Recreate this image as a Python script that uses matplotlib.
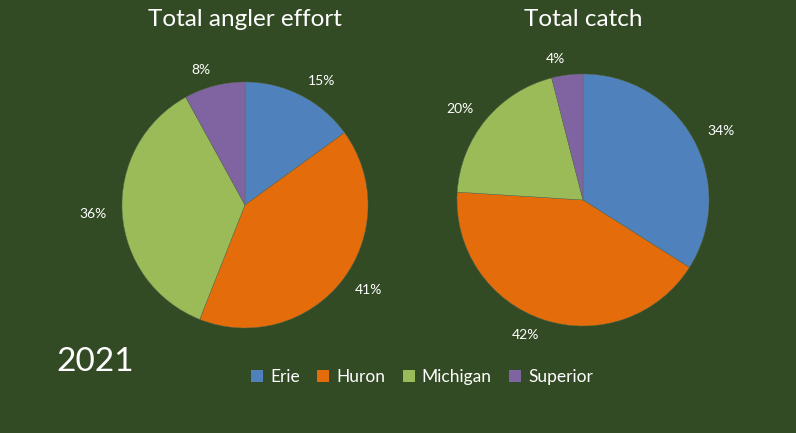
import matplotlib
matplotlib.use("Agg")
import matplotlib.pyplot as plt
from matplotlib.patches import Patch

plt.rcParams['font.family'] = ['Lato', 'DejaVu Sans']

lakes = ["Erie", "Huron", "Michigan", "Superior"]
effort = [15, 41, 36, 8]
catch = [34, 42, 20, 4]
colors = ["#4f81bd", "#e46c0a", "#9bbb59", "#8064a2"]
bg = "#334b24"
W, H = 796, 433

fig = plt.figure(figsize=(W/100, H/100), dpi=100, facecolor=bg)

def make_pie(cx, cy, r, vals, title, ty):
    ax = fig.add_axes([(cx - r)/W, 1 - (cy + r)/H, 2*r/W, 2*r/H])
    ax.set_facecolor(bg)
    ax.pie(vals, colors=colors, startangle=90, counterclock=False,
           labels=[f"{v}%" for v in vals], labeldistance=1.13,
           textprops=dict(color="white", fontsize=10),
           wedgeprops=dict(linewidth=0.3, edgecolor="#5a6b50"))
    ax.set_xlim(-1, 1); ax.set_ylim(-1, 1)
    ax.axis('off')
    fig.text(cx/W, 1 - ty/H, title, color="white", fontsize=17.5,
             ha="center", va="center")

make_pie(245, 205, 123, effort, "Total angler effort", 20)
make_pie(583, 200, 126, catch, "Total catch", 20)

fig.text(95/W, 1 - 362/H, "2021", color="white", fontsize=24,
         ha="center", va="center")

handles = [Patch(facecolor=c, edgecolor='none') for c in colors]
fig.legend(handles, lakes, loc="center", bbox_to_anchor=(422/W, 1 - 377/H),
           ncol=4, frameon=False, fontsize=12.5, labelcolor="white",
           handlelength=0.7, handleheight=0.7, handletextpad=0.4,
           columnspacing=1.0)

fig.savefig("out.png", dpi=100, facecolor=bg)
